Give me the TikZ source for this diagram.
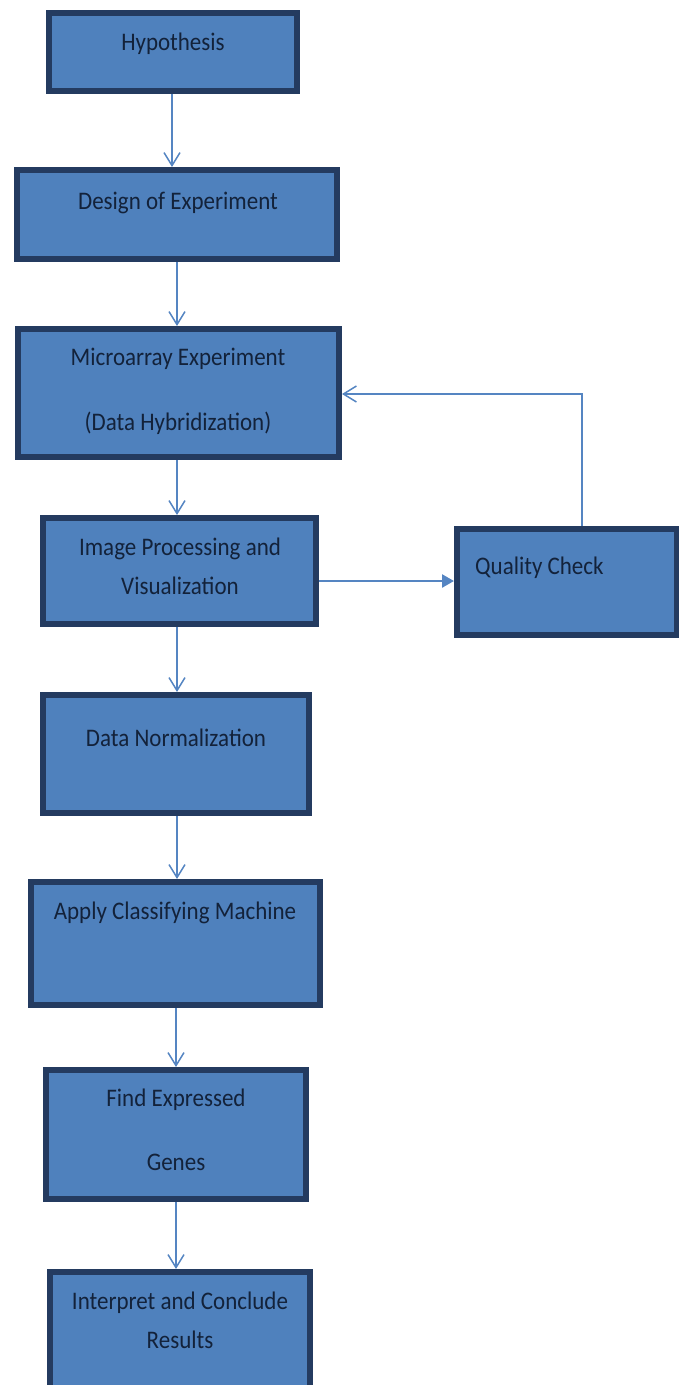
\documentclass[tikz,border=0pt]{standalone}
\usepackage{graphicx}
\usepackage{fontspec}
\setmainfont{Carlito}
\usetikzlibrary{arrows.meta}
\definecolor{boxfill}{HTML}{4F81BD}
\definecolor{boxline}{HTML}{243B60}
\definecolor{arrowc}{HTML}{5585C2}
\definecolor{textc}{HTML}{13223A}
\newcommand{\vtxt}[1]{\scalebox{1}[1.1]{#1}}
\begin{document}
\begin{tikzpicture}[x=1pt,y=-1pt,
  stepbox/.style={draw=boxline,fill=boxfill,line width=6pt,rectangle,inner sep=0pt},
  lbl/.style={text=textc,font=\fontsize{23}{27}\selectfont,anchor=mid,inner sep=0pt},
  arr/.style={draw=arrowc,line width=1.5pt,-{Straight Barb[length=13pt,width=16pt,line width=1.5pt]}},
  farr/.style={draw=arrowc,line width=2.5pt,-{Triangle[length=12pt,width=13pt]}}]
\useasboundingbox (0,0) rectangle (679,1385);
\clip (0,0) rectangle (679,1385);
% boxes: centre and size (path size = outer - 6)
\node[stepbox,minimum width=248pt,minimum height=78pt] (hyp) at (173,52) {};
\node[stepbox,minimum width=320pt,minimum height=89pt] (des) at (177,214.5) {};
\node[stepbox,minimum width=321pt,minimum height=128pt] (mic) at (178.5,393) {};
\node[stepbox,minimum width=273pt,minimum height=106pt] (img) at (179.5,571) {};
\node[stepbox,minimum width=220pt,minimum height=106pt] (qc) at (567,582) {};
\node[stepbox,minimum width=266pt,minimum height=118pt] (dn) at (176,754) {};
\node[stepbox,minimum width=289pt,minimum height=123pt] (acm) at (175.5,943.5) {};
\node[stepbox,minimum width=260pt,minimum height=129pt] (feg) at (176,1134.5) {};
\node[stepbox,minimum width=260pt,minimum height=126pt] (int) at (180,1335) {};
% texts
\node[lbl] (t1) at (173,48) {\vtxt{Hypothesis}};
\node[lbl] (t2) at (178,207) {\vtxt{Design of Experiment}};
\node[lbl] (t3a) at (178,363) {\vtxt{Microarray Experiment}};
\node[lbl] (t3b) at (178,428) {\vtxt{(Data Hybridization)}};
\node[lbl] (t4a) at (180,553) {\vtxt{Image Processing and}};
\node[lbl] (t4b) at (180,592) {\vtxt{Visualization}};
\node[lbl,anchor=mid west] (t5) at (475,572) {\vtxt{Quality Check}};
\node[lbl] (t6) at (176,744) {\vtxt{Data Normalization}};
\node[lbl] (t7) at (175,917) {\vtxt{Apply Classifying Machine}};
\node[lbl] (t8a) at (176,1104) {\vtxt{Find Expressed}};
\node[lbl] (t8b) at (176,1168) {\vtxt{Genes}};
\node[lbl] (t9a) at (180,1307) {\vtxt{Interpret and Conclude}};
\node[lbl] (t9b) at (180,1346) {\vtxt{Results}};
% connectors
\coordinate (c1) at (172,0);
\coordinate (c2) at (177,0);
\coordinate (c3) at (176,0);
\coordinate (fb) at (582,394);
\coordinate (hr) at (0,581);
\draw[arr] (hyp.south -| c1) -- (des.north -| c1);
\draw[arr] (des.south -| c2) -- (mic.north -| c2);
\draw[arr] (mic.south -| c2) -- (img.north -| c2);
\draw[arr] (img.south -| c2) -- (dn.north -| c2);
\draw[arr] (dn.south -| c2) -- (acm.north -| c2);
\draw[arr] (acm.south -| c3) -- (feg.north -| c3);
\draw[arr] (feg.south -| c3) -- (int.north -| c3);
\draw[farr] (img.east |- hr) -- (qc.west |- hr);
\draw[arr] (qc.north -| fb) -- (fb) -- (mic.east |- fb);
\end{tikzpicture}
\end{document}
